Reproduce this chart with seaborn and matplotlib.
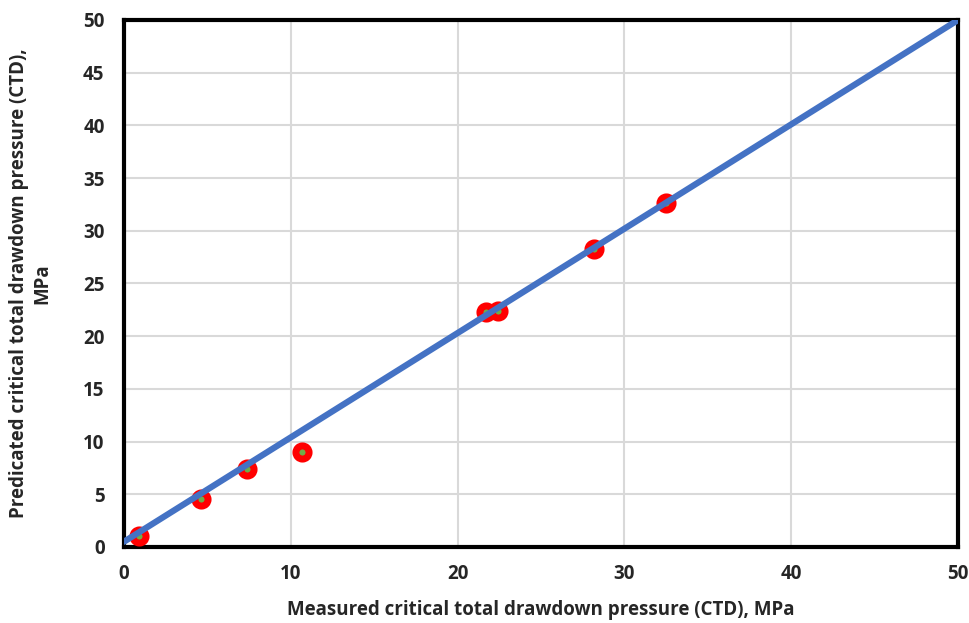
import numpy as np
import pandas as pd
import matplotlib
matplotlib.use('Agg')
import matplotlib.pyplot as plt
import seaborn as sns

# datos
measured = [0.9, 4.6, 7.4, 10.7, 21.7, 22.4, 28.2, 32.5]
predicted = [1.0, 4.6, 7.4, 9.0, 22.3, 22.4, 28.3, 32.6]

# linea de ajuste
fit_x = [0, 50]
fit_y = [0.5, 50]

df = pd.DataFrame({'measured': measured, 'predicted': predicted})
fit = pd.DataFrame({'x': fit_x, 'y': fit_y})

sns.set_style('white')
plt.rcParams['font.family'] = ['Open Sans', 'DejaVu Sans']
plt.rcParams['font.weight'] = 'bold'

fig = plt.figure(figsize=(9.7, 6.23), dpi=100)
ax = fig.add_axes([0.1278, 0.122, 0.86, 0.846])

sns.scatterplot(data=df, x='measured', y='predicted', ax=ax, s=90,
                color='#70AD47', edgecolor='red', linewidth=5, zorder=3)
sns.lineplot(data=fit, x='x', y='y', ax=ax, color='#4472C4', linewidth=4.5,
             zorder=4)

ax.set_xlim(0, 50)
ax.set_ylim(0, 50)
ax.set_xticks(np.arange(0, 51, 10))
ax.set_yticks(np.arange(0, 51, 5))
ax.grid(True, color='#D9D9D9', linewidth=1.5)
ax.set_axisbelow(True)
for s in ax.spines.values():
    s.set_color('black')
    s.set_linewidth(3)

ax.tick_params(axis='y', labelsize=13.5, length=0, pad=14)
ax.tick_params(axis='x', labelsize=13.5, length=0, pad=12)
for t in ax.get_xticklabels() + ax.get_yticklabels():
    t.set_fontweight('bold')
ax.set_xlabel('Measured critical total drawdown pressure (CTD), MPa',
              fontsize=13.5, fontweight='bold', labelpad=12)
ax.set_ylabel('Predicated critical total drawdown pressure (CTD),\nMPa',
              fontsize=13.5, fontweight='bold', labelpad=22)

fig.savefig('out.png', dpi=100)
